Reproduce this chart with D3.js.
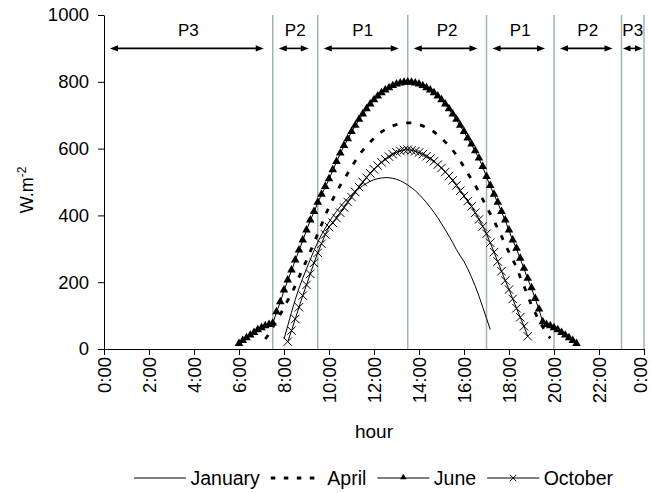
<!DOCTYPE html>
<html>
<head>
<meta charset="utf-8">
<script src="https://cdn.jsdelivr.net/npm/d3@7"></script>
<style>
  html, body { margin: 0; padding: 0; background: #fff; }
  svg { display: block; font-family: "Liberation Sans", Arial, Helvetica, sans-serif; }
</style>
</head>
<body>
<svg id="chart" width="651" height="493"></svg>
<script>
// Irradiance profiles (W.m-2) sampled every 10 minutes, each from its own start hour
const stepHours = 10 / 60;

const januaryStart = 8 + 0 / 60;
const januaryValues = [30, 70, 110, 148, 182, 212, 240, 268, 295, 320, 342, 362,
  380, 397, 412, 426, 439, 451, 462, 472, 481, 489, 496, 502,
  507, 510, 512, 513, 513, 511, 508, 504, 498, 491, 483, 474,
  463, 451, 438, 424, 409, 393, 375, 357, 338, 318, 297, 279,
  262, 240, 215, 188, 158, 125, 92, 58];

const aprilStart = 7 + 10 / 60;
const aprilValues = [30, 45, 65, 85, 104, 124, 146, 165, 190, 215, 240, 265,
  292, 318, 345, 372, 400, 425, 448, 470, 490, 508, 526, 545,
  563, 580, 595, 608, 620, 631, 641, 650, 657, 663, 668, 672,
  675, 677, 677, 677, 675, 672, 668, 663, 657, 650, 641, 631,
  620, 608, 595, 580, 563, 545, 526, 508, 490, 470, 448, 425,
  405, 385, 360, 338, 312, 290, 268, 245, 215, 188, 160, 130,
  108, 85, 66, 48, 32];

const juneStart = 6 + 0 / 60;
const juneValues = [15, 24, 32, 40, 48, 56, 62, 68, 72, 76,
  110, 140, 175, 205, 235, 265, 295, 325, 355, 385,
  410, 438, 462, 485, 508, 535, 560, 585, 608, 628,
  650, 668, 686, 702, 718, 732, 745, 756, 766, 774,
  781, 787, 792, 795, 797, 798,
  797, 795, 792, 787, 781, 774, 766, 756, 745, 732,
  718, 702, 686, 668, 650, 630, 612, 592, 570, 545,
  515, 488, 462, 438, 410, 385, 355, 325, 300, 270,
  240, 210, 182, 150, 118, 80,
  72, 68, 62, 56, 48, 40, 32, 24, 15];

const octoberStart = 8 + 10 / 60;
const octoberValues = [22, 55, 90, 125, 160, 192, 225, 258, 288, 315, 343, 365,
  378, 392, 408, 424, 440, 455, 470, 485, 500, 513, 526, 538,
  549, 559, 568, 576, 583, 589, 593, 596, 597, 595, 592, 588,
  583, 577, 570, 562, 552, 542, 530, 518, 505, 490, 474, 458,
  443, 427, 408, 388, 367, 345, 318, 290, 262, 233, 205, 178,
  150, 122, 95, 68, 38];

// Tariff periods: labels and the hour boundaries between them
const periodLabels = ["P3", "P2", "P1", "P2", "P1", "P2", "P3"];
const periodBounds = [0, 7.5, 9.5, 13.5, 17, 20, 23, 24];

const xTickHours = [0, 2, 4, 6, 8, 10, 12, 14, 16, 18, 20, 22, 24];
const yTicks = [0, 200, 400, 600, 800, 1000];
const seriesNames = ["January", "April", "June", "October"];

const svg = d3.select("#chart");
const margin = { left: 104, right: 7, top: 15, bottom: 144 };
const W = 651, H = 493;

const x = d3.scaleLinear().domain([0, 24]).range([margin.left, W - margin.right]);
const y = d3.scaleLinear().domain([0, 1000]).range([H - margin.bottom, margin.top]);

const toPoints = (start, values) => values.map((v, i) => ({ h: start + i * stepHours, v }));
const series = [
  { name: seriesNames[0], pts: toPoints(januaryStart, januaryValues), style: "solid" },
  { name: seriesNames[1], pts: toPoints(aprilStart, aprilValues), style: "dash" },
  { name: seriesNames[2], pts: toPoints(juneStart, juneValues), style: "tri" },
  { name: seriesNames[3], pts: toPoints(octoberStart, octoberValues), style: "cross" }
];

const fontSize = 18.5;
const legendFontSize = 19.5;

// Period boundary lines
svg.append("g").selectAll("line")
  .data(periodBounds.slice(1))
  .join("line")
  .attr("x1", d => x(d)).attr("x2", d => x(d))
  .attr("y1", y(1000)).attr("y2", y(0))
  .attr("stroke", "#a3b4b4").attr("stroke-width", 1.5);

// Axes
const xAxis = d3.axisBottom(x).tickValues(xTickHours)
  .tickFormat(d => (d % 24) + ":00").tickSize(6).tickSizeOuter(0);
const gx = svg.append("g").attr("transform", `translate(0,${y(0)})`).call(xAxis);
gx.select(".domain").attr("stroke", "#000");
gx.selectAll(".tick line").attr("stroke", "#000");
gx.selectAll(".tick text")
  .attr("font-size", fontSize).attr("font-family", null).attr("fill", "#000")
  .attr("transform", "rotate(-90)")
  .attr("text-anchor", "end")
  .attr("x", -8).attr("y", 0)
  .attr("dy", d => d === 24 ? "0.16em" : "0.34em");

const yAxis = d3.axisLeft(y).tickValues(yTicks).tickFormat(d3.format("d"))
  .tickSize(6).tickSizeOuter(0).tickPadding(9);
const gy = svg.append("g").attr("transform", `translate(${x(0)},0)`).call(yAxis);
gy.select(".domain").attr("stroke", "#000");
gy.selectAll(".tick line").attr("stroke", "#000");
gy.selectAll(".tick text").attr("font-size", fontSize).attr("font-family", null).attr("fill", "#000");

// Axis titles
svg.append("text")
  .attr("x", (x(0) + x(24)) / 2).attr("y", 438)
  .attr("text-anchor", "middle").attr("font-size", 19)
  .text("hour");

const yTitle = svg.append("text")
  .attr("transform", `translate(33,${(y(0) + y(1000)) / 2 + 8}) rotate(-90)`)
  .attr("text-anchor", "middle").attr("font-size", 18);
yTitle.append("tspan").text("W.m");
yTitle.append("tspan").attr("font-size", 12).attr("dy", -7).text("-2");

// Series drawing
const line = d3.line().x(d => x(d.h)).y(d => y(d.v));
const plot = svg.append("g");

const triPath = d3.symbol().type(d3.symbolTriangle).size(32)();
const crossPath = "M-4.2,-4.2L4.2,4.2M-4.2,4.2L4.2,-4.2";

series.forEach(s => {
  const path = plot.append("path").datum(s.pts)
    .attr("fill", "none").attr("stroke", "#000").attr("d", line);
  if (s.style === "dash") {
    path.attr("stroke-width", 2.8).attr("stroke-dasharray", "5,9");
  } else {
    path.attr("stroke-width", 1);
  }
  if (s.style === "tri") {
    plot.append("g").selectAll("path").data(s.pts).join("path")
      .attr("transform", d => `translate(${x(d.h)},${y(d.v) - 0.5})`)
      .attr("d", triPath).attr("fill", "#000");
  }
  if (s.style === "cross") {
    plot.append("g").selectAll("path").data(s.pts).join("path")
      .attr("transform", d => `translate(${x(d.h)},${y(d.v)})`)
      .attr("d", crossPath).attr("fill", "none").attr("stroke", "#000").attr("stroke-width", 1);
  }
});

// Period arrows and labels
const arrowY = y(900);
const ann = svg.append("g");
const headLen = 8, headHalf = 3.2;
periodLabels.forEach((lab, i) => {
  const a = x(periodBounds[i]), b = x(periodBounds[i + 1]);
  const w = b - a;
  const x1 = a + (w > 30 ? 6 : 1.5), x2 = b - (w > 30 ? 9 : 1.5);
  const hl = Math.min(headLen, (x2 - x1) / 2.6);
  ann.append("line")
    .attr("x1", x1 + hl * 0.8).attr("x2", x2 - hl * 0.8)
    .attr("y1", arrowY).attr("y2", arrowY)
    .attr("stroke", "#000").attr("stroke-width", 1.6);
  ann.append("path")
    .attr("d", `M${x1},${arrowY}L${x1 + hl},${arrowY - headHalf}L${x1 + hl},${arrowY + headHalf}Z`)
    .attr("fill", "#000");
  ann.append("path")
    .attr("d", `M${x2},${arrowY}L${x2 - hl},${arrowY - headHalf}L${x2 - hl},${arrowY + headHalf}Z`)
    .attr("fill", "#000");
  ann.append("text")
    .attr("x", (a + b) / 2).attr("y", 36)
    .attr("text-anchor", "middle").attr("font-size", 17)
    .text(lab);
});

// Legend
const legend = svg.append("g");
const sampleLen = 52, textGap = 4.5, itemGap = 11, legendY = 478;
let cx = 0;
series.forEach(s => {
  const g = legend.append("g").attr("transform", `translate(${cx},0)`);
  const l = g.append("line").attr("x1", 0).attr("x2", sampleLen)
    .attr("y1", legendY).attr("y2", legendY).attr("stroke", "#000");
  if (s.style === "dash") {
    l.attr("stroke-width", 2.8).attr("stroke-dasharray", "4.5,8.5");
  } else {
    l.attr("stroke-width", 1);
  }
  if (s.style === "tri") {
    g.append("path").attr("transform", `translate(${sampleLen / 2},${legendY - 0.5})`)
      .attr("d", d3.symbol().type(d3.symbolTriangle).size(18)()).attr("fill", "#000");
  }
  if (s.style === "cross") {
    g.append("path").attr("transform", `translate(${sampleLen / 2},${legendY})`)
      .attr("d", "M-3.2,-3.2L3.2,3.2M-3.2,3.2L3.2,-3.2").attr("stroke", "#000").attr("stroke-width", 1);
  }
  const t = g.append("text").attr("x", sampleLen + textGap).attr("y", legendY + 7)
    .attr("font-size", legendFontSize).text(s.name);
  cx += sampleLen + textGap + t.node().getComputedTextLength() + itemGap;
});
const legendRight = 613;
legend.attr("transform", `translate(${legendRight - (cx - itemGap)},0)`);
</script>
</body>
</html>
